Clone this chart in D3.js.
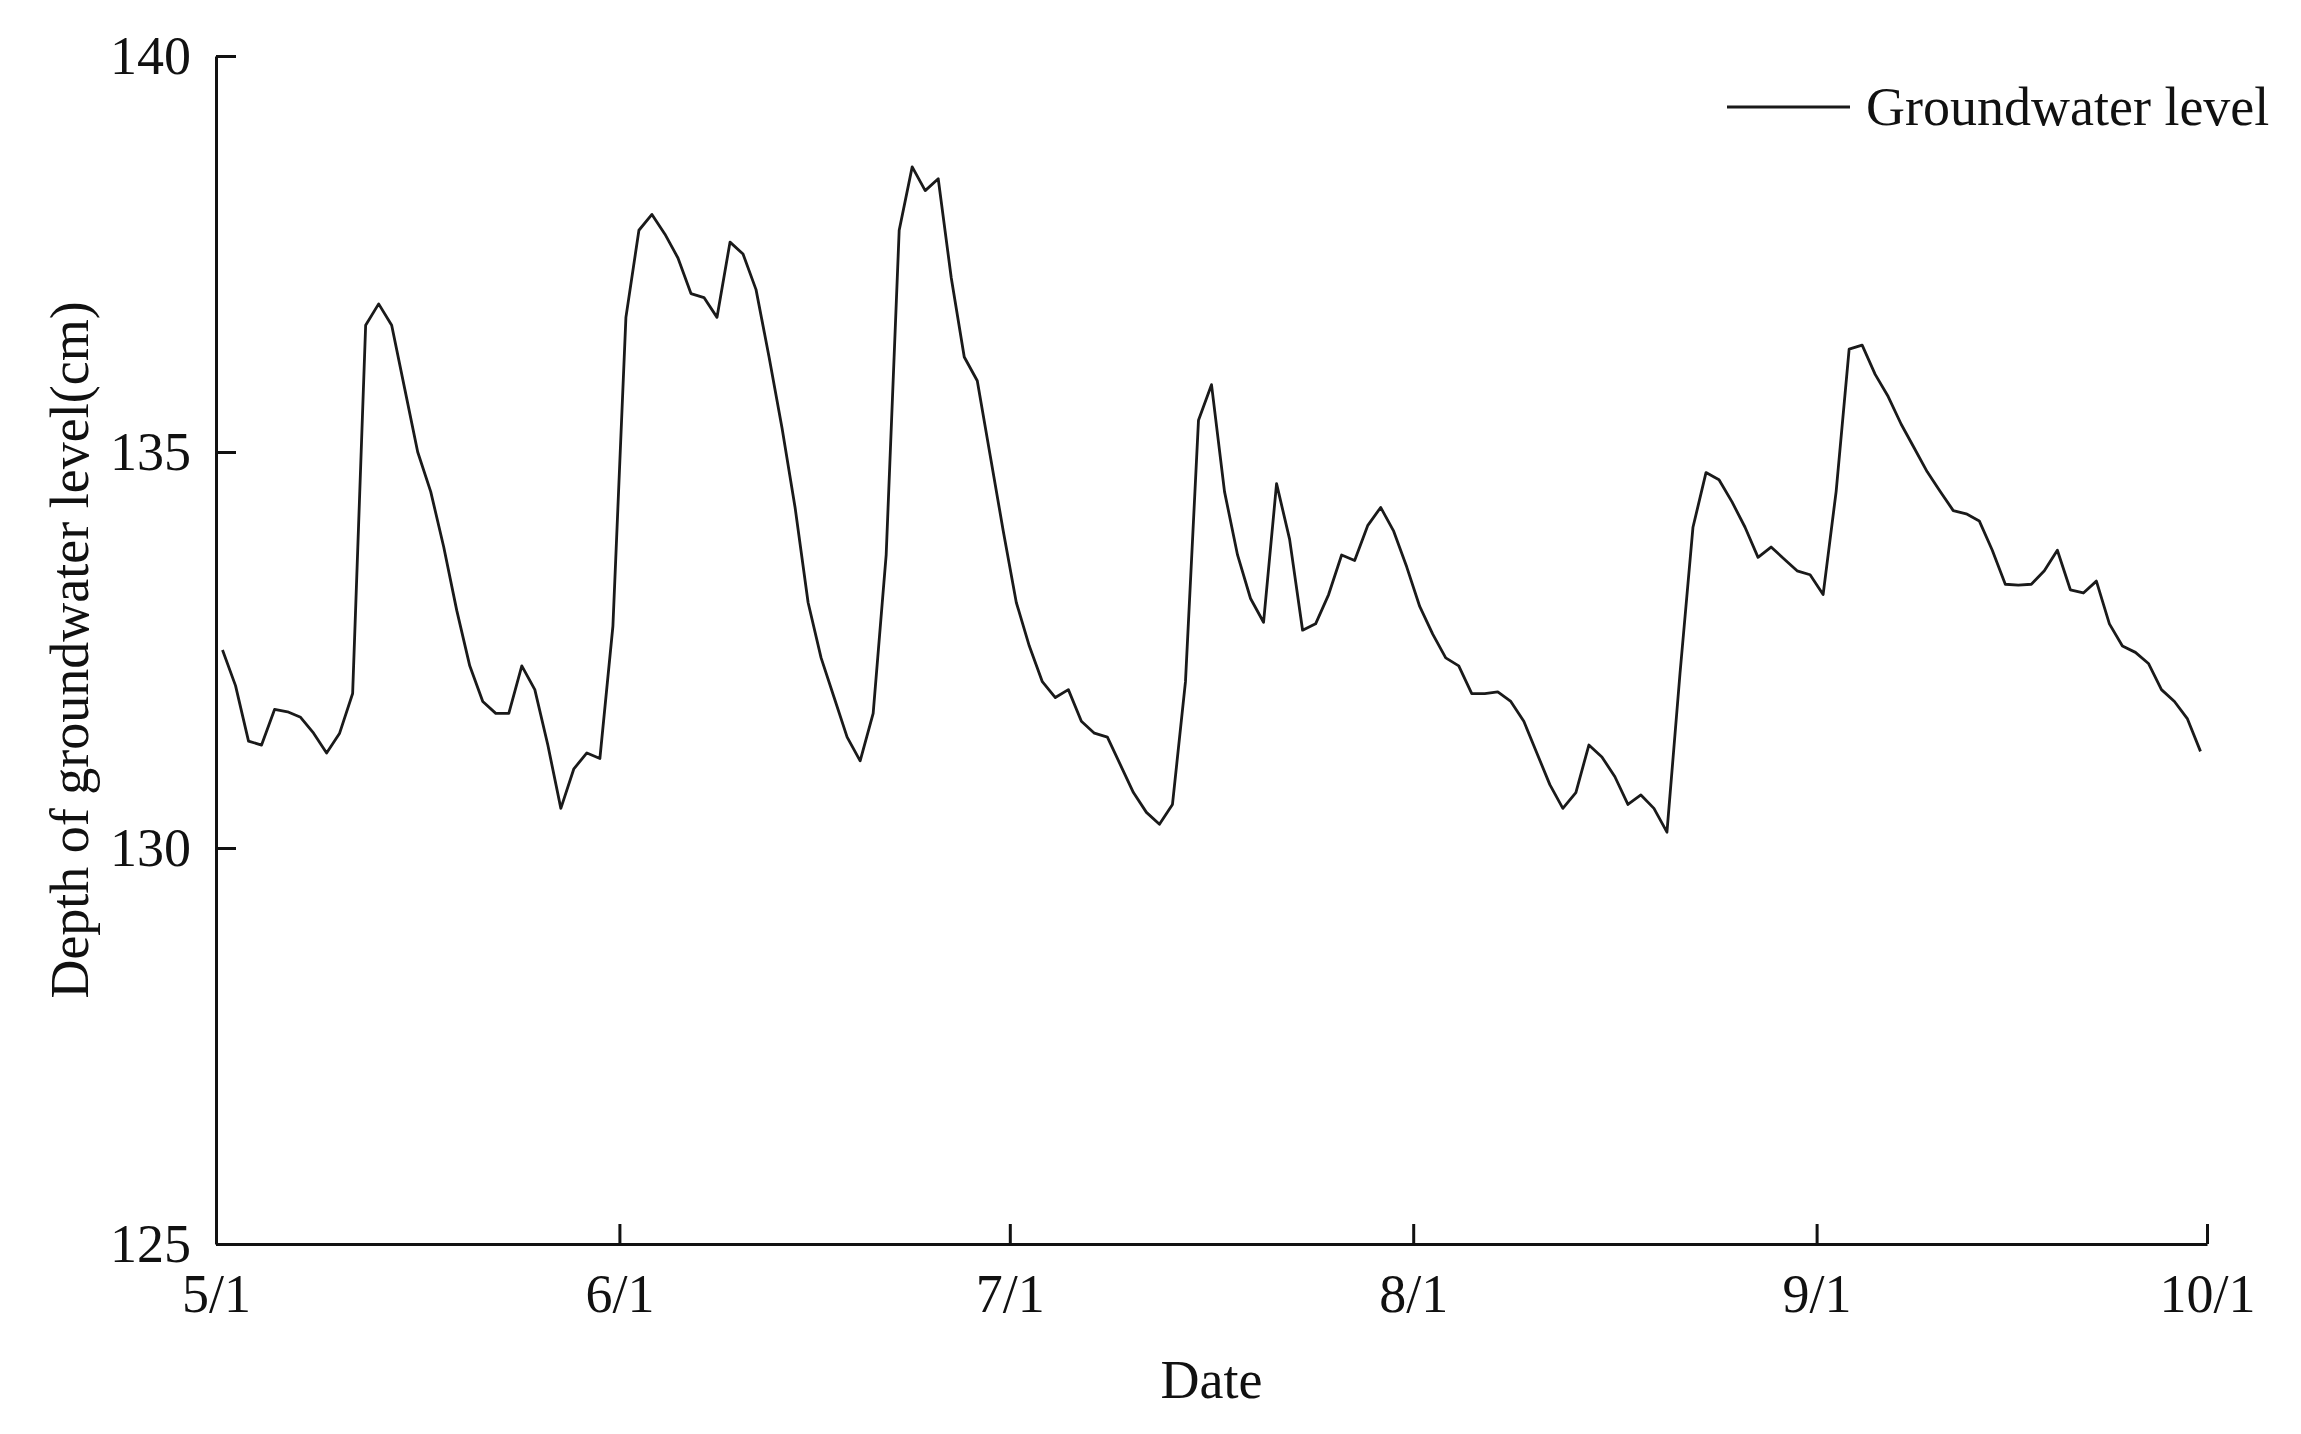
<!DOCTYPE html>
<html>
<head>
<meta charset="utf-8">
<script src="https://cdn.jsdelivr.net/npm/d3@7"></script>
<style>
  html, body { margin: 0; padding: 0; background: #fff; }
  svg { display: block; font-family: "Liberation Serif", "DejaVu Serif", serif; }
  .axis path, .axis line { stroke: #111; stroke-width: 3; }
  .axis text { font-size: 54px; fill: #111; font-family: "Liberation Serif", serif; }
</style>
</head>
<body>
<svg id="chart" width="2301" height="1434"></svg>
<script>
// daily groundwater depth, 5/1 .. 9/30 (one reading per day, taken at noon)
var startDay = "2018-05-01";
var depth = [
  132.5, 132.05, 131.35, 131.3, 131.75, 131.72, 131.65, 131.45, 131.2, 131.45,
  131.95, 136.6, 136.87, 136.6, 135.8, 135.0, 134.5, 133.8, 133.0, 132.3,
  131.85, 131.7, 131.7, 132.3, 132.0, 131.3, 130.5, 131.0, 131.2, 131.13,
  132.8, 136.7, 137.8, 138.0, 137.75, 137.45, 137.0, 136.95, 136.7, 137.65,
  137.5, 137.05, 136.2, 135.3, 134.3, 133.1, 132.4, 131.9, 131.4, 131.1,
  131.7, 133.7, 137.8, 138.6, 138.3, 138.45, 137.2, 136.2, 135.9, 134.95,
  134.0, 133.1, 132.55, 132.1, 131.9, 132.0, 131.6, 131.45, 131.4, 131.05,
  130.7, 130.45, 130.3, 130.55, 132.1, 135.4, 135.85, 134.5, 133.7, 133.15,
  132.85, 134.6, 133.9, 132.75, 132.83, 133.2, 133.7, 133.63, 134.07, 134.3,
  134.0, 133.55, 133.05, 132.7, 132.4, 132.3, 131.95, 131.95, 131.97, 131.85,
  131.6, 131.2, 130.8, 130.5, 130.7, 131.3, 131.15, 130.9, 130.55, 130.67,
  130.5, 130.2, 132.2, 134.05, 134.74, 134.65, 134.37, 134.05, 133.67, 133.8,
  133.65, 133.5, 133.45, 133.2, 134.5, 136.3, 136.35, 135.98, 135.7, 135.35,
  135.05, 134.75, 134.5, 134.26, 134.22, 134.13, 133.76, 133.33, 133.32, 133.33,
  133.5, 133.76, 133.26, 133.22, 133.37, 132.83, 132.55, 132.47, 132.33, 132.0,
  131.85, 131.63, 131.22
];
var xTickDates = ["2018-05-01", "2018-06-01", "2018-07-01", "2018-08-01", "2018-09-01", "2018-10-01"];
var xTickLabels = ["5/1", "6/1", "7/1", "8/1", "9/1", "10/1"];
var yTicks = [125, 130, 135, 140];
var seriesName = "Groundwater level";

(function() {
  var parse = d3.timeParse("%Y-%m-%d");
  var start = parse(startDay);
  var data = depth.map(function(v, i) {
    return { date: d3.timeHour.offset(d3.timeDay.offset(start, i), 12), value: v };
  });
  var tickDates = xTickDates.map(parse);

  var svg = d3.select("#chart");
  var x0 = 216, x1 = 2207, y0 = 56, y1 = 1244;

  var x = d3.scaleTime()
      .domain([tickDates[0], tickDates[tickDates.length - 1]])
      .range([x0, x1]);
  var y = d3.scaleLinear()
      .domain([125, 140])
      .range([y1, y0]);

  var xAxis = d3.axisBottom(x)
      .tickValues(tickDates)
      .tickFormat(function(d, i) { return xTickLabels[i]; })
      .tickSizeInner(-20)
      .tickSizeOuter(0)
      .tickPadding(30);

  var yAxis = d3.axisLeft(y)
      .tickValues(yTicks)
      .tickFormat(d3.format("d"))
      .tickSizeInner(-20)
      .tickSizeOuter(0)
      .tickPadding(25);

  svg.append("g")
      .attr("class", "axis")
      .attr("transform", "translate(0," + y1 + ")")
      .call(xAxis);

  svg.append("g")
      .attr("class", "axis")
      .attr("transform", "translate(" + x0 + ",0)")
      .call(yAxis);

  var line = d3.line()
      .x(function(d) { return x(d.date); })
      .y(function(d) { return y(d.value); });

  svg.append("path")
      .datum(data)
      .attr("fill", "none")
      .attr("stroke", "#1a1a1a")
      .attr("stroke-width", 2.8)
      .attr("stroke-linejoin", "round")
      .attr("d", line);

  // axis titles
  svg.append("text")
      .attr("x", (x0 + x1) / 2)
      .attr("y", 1398)
      .attr("text-anchor", "middle")
      .style("font-size", "54px")
      .attr("fill", "#111")
      .text("Date");

  svg.append("text")
      .attr("transform", "translate(88," + (y0 + y1) / 2 + ") rotate(-90)")
      .attr("text-anchor", "middle")
      .style("font-size", "54px")
      .attr("fill", "#111")
      .text("Depth of groundwater level(cm)");

  // legend
  var legend = svg.append("g").attr("transform", "translate(1727,107)");
  legend.append("line")
      .attr("x1", 0).attr("x2", 123)
      .attr("stroke", "#1a1a1a")
      .attr("stroke-width", 3);
  legend.append("text")
      .attr("x", 139)
      .attr("dy", "0.33em")
      .style("font-size", "54px")
      .attr("fill", "#111")
      .text(seriesName);
})();
</script>
</body>
</html>
